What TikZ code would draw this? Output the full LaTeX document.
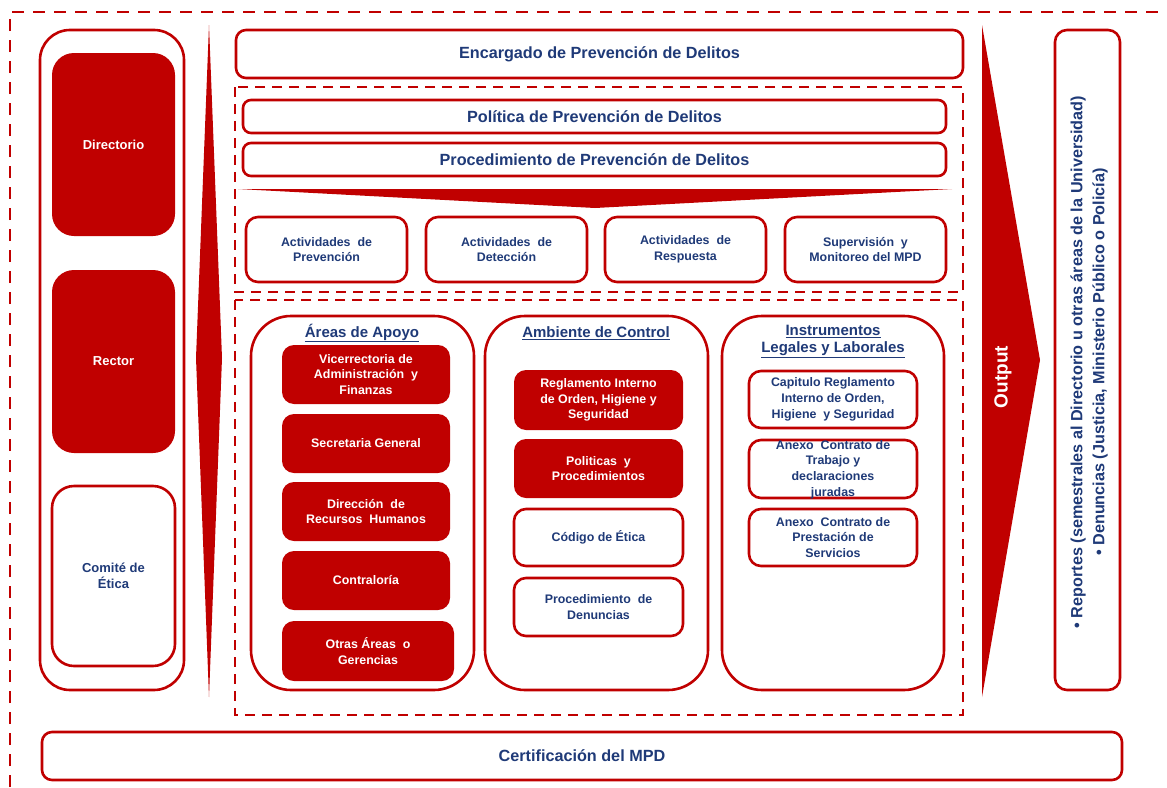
\documentclass[tikz,border=0pt]{standalone}
\usepackage{fontspec}
\setmainfont{Liberation Sans}
\definecolor{myred}{HTML}{C00000}
\definecolor{navy}{HTML}{1F3A78}
\tikzset{
  base/.style={align=center, inner sep=0pt, font=\bfseries\fontsize{12.4}{15.8}\selectfont},
  redbox/.style={base, fill=myred, draw=none, text=white, rounded corners=#1},
  redbox/.default=12pt,
  wbox/.style={base, fill=white, draw=myred, line width=2.6pt, text=navy, rounded corners=#1},
  wbox/.default=12pt,
  bigtxt/.style={font=\bfseries\fontsize{16.2}{19}\selectfont},
  midtxt/.style={font=\bfseries\fontsize{13}{16}\selectfont},
  dashbox/.style={draw=myred, line width=2.6pt, dash pattern=on 10pt off 7pt},
  head/.style={text=navy, align=center, inner sep=0pt, font=\bfseries\fontsize{15}{17.5}\selectfont},
}
\begin{document}
\begin{tikzpicture}[x=1pt,y=-1pt]
\useasboundingbox (0,0) rectangle (1167,787);
% outer dashed frame
\draw[myred, line width=1.8pt, dash pattern=on 12pt off 9pt] (10,787) -- (10,12) -- (1167,12);

% left column
\node[wbox=30pt, minimum width=144pt, minimum height=660pt] (lcol) at (112,360) {};
\node[redbox=22pt, midtxt, minimum width=123pt, minimum height=183pt] (dir) at (113.5,144.5) {Directorio};
\node[redbox=22pt, midtxt, minimum width=123pt, minimum height=183pt] (rec) at (113.5,361.5) {Rector};
\node[wbox=22pt, midtxt, minimum width=123pt, minimum height=180pt] (com) at (113.5,576) {Comité de\\Ética};

% left spindle arrow
\fill[myred] (209,25) -- (222,358) -- (209,697) -- (196,358) -- cycle;

% top box
\node[wbox=10pt, bigtxt, minimum width=727pt, minimum height=48pt] (enc) at (599.5,54) {Encargado de Prevención de Delitos};

% dashed box 1
\draw[dashbox] (235,87) rectangle (963,292);
\node[wbox=8pt, bigtxt, minimum width=703pt, minimum height=33pt] (pol) at (594.5,116.5) {Política de Prevención de Delitos};
\node[wbox=8pt, bigtxt, minimum width=703pt, minimum height=33pt] (proc) at (594.5,159.5) {Procedimiento de Prevención de Delitos};
\fill[myred] (238,189) -- (952,189) -- (595,208) -- cycle;

\node[wbox, minimum width=161pt, minimum height=65pt] (a1) at (326.5,249.5) {Actividades\ \ de\\Prevención};
\node[wbox, minimum width=161pt, minimum height=65pt] (a2) at (506.5,249.5) {Actividades\ \ de\\Detección};
\node[wbox, minimum width=161pt, minimum height=65pt] (a3) at (685.5,249.5) {Actividades\ \ de\\Respuesta};
\node[wbox, minimum width=161pt, minimum height=65pt] (a4) at (865.5,249.5) {Supervisión\ \ y\\Monitoreo del MPD};

% dashed box 2
\draw[dashbox] (235,300) rectangle (963,715);

% three columns
\node[wbox=40pt, minimum width=223pt, minimum height=374pt] (areas) at (362.5,503) {};
\node[wbox=40pt, minimum width=223pt, minimum height=374pt] (amb) at (596.5,503) {};
\node[wbox=40pt, minimum width=222pt, minimum height=374pt] (ins) at (833,503) {};

\node[head] (h1) at (362,333) {\underline{Áreas de Apoyo}};
\node[head] (h2) at (596,333) {\underline{Ambiente de Control}};
\node[head] (h3) at (833,341.5) {\underline{Instrumentos}\\\underline{Legales y Laborales}};

% Areas de apoyo
\node[redbox, minimum width=168pt, minimum height=59pt] (v1) at (366,374.5) {Vicerrectoria\ de\\Administración\ \ y\\Finanzas};
\node[redbox, minimum width=168pt, minimum height=59pt] (v2) at (366,443.5) {Secretaria\ General};
\node[redbox, minimum width=168pt, minimum height=59pt] (v3) at (366,511.5) {Dirección\ \ de\\Recursos\ \ Humanos};
\node[redbox, minimum width=168pt, minimum height=59pt] (v4) at (366,580.5) {Contraloría};
\node[redbox, minimum width=172pt, minimum height=60pt] (v5) at (368,651) {Otras Áreas\ \ o\\Gerencias};

% Ambiente de control
\node[redbox, minimum width=169pt, minimum height=60pt] (b1) at (598.5,400) {Reglamento\ Interno\\de Orden, Higiene\ y\\Seguridad};
\node[redbox, minimum width=169pt, minimum height=59pt] (b2) at (598.5,468.5) {Politicas\ \ y\\Procedimientos};
\node[wbox, minimum width=169pt, minimum height=57pt] (b3) at (598.5,537.5) {Código\ de Ética};
\node[wbox, minimum width=169pt, minimum height=58pt] (b4) at (598.5,607) {Procedimiento\ \ de\\Denuncias};

% Instrumentos
\node[wbox, minimum width=168pt, minimum height=57pt] (c1) at (833,399.5) {Capitulo\ Reglamento\\Interno de Orden,\\Higiene\ \ y\ Seguridad};
\node[wbox, minimum width=168pt, minimum height=58pt] (c2) at (833,469) {};
\node[base, text=navy] (c2t) at (833,469.5) {Anexo\ \ Contrato de\\Trabajo\ y\\declaraciones\\juradas};
\node[wbox, minimum width=168pt, minimum height=57pt] (c3) at (833,537.5) {Anexo\ \ Contrato de\\Prestación\ de\\Servicios};

% Output arrow
\fill[myred] (982,25) -- (1040,360) -- (982,697) -- cycle;
\node[rotate=90, text=white, inner sep=0pt, font=\bfseries\fontsize{19}{22}\selectfont] (out) at (1003,377) {Output};

% right box
\node[wbox, minimum width=65pt, minimum height=660pt] (rbox) at (1087.5,360) {};
\node[rotate=90, text=navy, align=center, inner sep=0pt, font=\bfseries\fontsize{16.2}{22}\selectfont] (rtxt) at (1089,362) {• Reportes (semestrales al Directorio u otras áreas de la Universidad)\\• Denuncias (Justicia, Ministerio Público o Policía)};

% certification
\node[wbox=10pt, bigtxt, minimum width=1080pt, minimum height=48pt] (cert) at (582,756) {Certificación del MPD};
\end{tikzpicture}
\end{document}
